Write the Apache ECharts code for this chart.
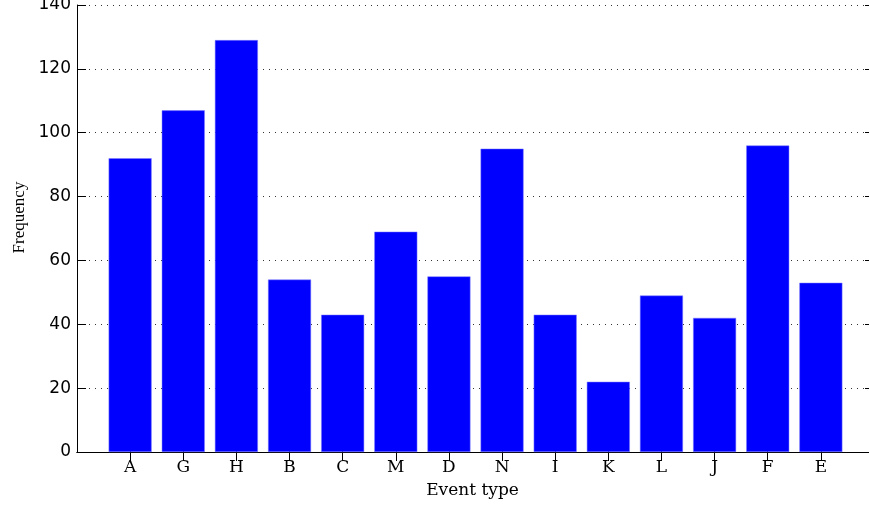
<!DOCTYPE html>
<html>
<head>
<meta charset="utf-8">
<script src="https://cdn.jsdelivr.net/npm/echarts@6/dist/echarts.min.js"></script>
<style>
  html, body { margin: 0; padding: 0; background: #fff; }
  #chart { width: 869px; height: 510px; }
</style>
</head>
<body>
<div id="chart"></div>
<script>
const categories = ['A', 'G', 'H', 'B', 'C', 'M', 'D', 'N', 'I', 'K', 'L', 'J', 'F', 'E'];
const frequency = [92, 107, 129, 54, 43, 69, 55, 95, 43, 22, 49, 42, 96, 53];
const yTicks = [0, 20, 40, 60, 80, 100, 120, 140];

// MATLAB-style x limits [0, N+1]: pad with empty slots at both ends
const paddedCats = [''].concat(categories, ['']);
const paddedVals = [null].concat(frequency, [null]);
const lastIdx = paddedCats.length - 1;
const tickFilter = function (idx) { return idx > 0 && idx < lastIdx; };

const chart = echarts.init(document.getElementById('chart'), null, { renderer: 'canvas' });
chart.setOption({
  animation: false,
  backgroundColor: '#ffffff',
  grid: { left: 77, top: 5, width: 797, height: 447, containLabel: false, outerBoundsMode: 'none' },
  xAxis: [
    {
      type: 'category',
      data: paddedCats,
      boundaryGap: false,
      position: 'bottom',
      name: 'Event type',
      nameLocation: 'middle',
      nameGap: 30,
      nameTextStyle: { fontFamily: 'DejaVu Serif', fontSize: 17, color: '#000', padding: [0, 6, 0, 0] },
      axisLine: { show: true, lineStyle: { color: '#000', width: 1 } },
      axisTick: { show: true, inside: true, length: 9, interval: tickFilter, lineStyle: { color: '#000' } },
      axisLabel: { show: true, interval: 0, margin: 7, fontFamily: 'DejaVu Serif', fontSize: 17, color: '#000' },
      splitLine: { show: false }
    },
    {
      type: 'category',
      data: paddedCats,
      boundaryGap: false,
      position: 'top',
      axisLine: { show: true, lineStyle: { color: '#000', width: 1 } },
      axisTick: { show: true, inside: true, length: 9, interval: tickFilter, lineStyle: { color: '#000' } },
      axisLabel: { show: false },
      splitLine: { show: false }
    }
  ],
  yAxis: [
    {
      type: 'value',
      min: yTicks[0],
      max: yTicks[yTicks.length - 1],
      interval: 20,
      position: 'left',
      name: 'Frequency',
      nameLocation: 'middle',
      nameGap: 48,
      nameTextStyle: { fontFamily: 'Liberation Serif', fontSize: 17, color: '#000', padding: [0, 0, 0, 22] },
      axisLine: { show: true, lineStyle: { color: '#000', width: 1 } },
      axisTick: { show: true, inside: true, length: 9, lineStyle: { color: '#000' } },
      axisLabel: { show: true, margin: 6, fontFamily: 'DejaVu Sans', fontSize: 17, color: '#000' },
      splitLine: { show: true, lineStyle: { color: '#333', width: 1, type: [1, 5] } }
    },
    {
      type: 'value',
      min: yTicks[0],
      max: yTicks[yTicks.length - 1],
      interval: 20,
      position: 'right',
      axisLine: { show: true, lineStyle: { color: '#000', width: 1 } },
      axisTick: { show: true, inside: true, length: 9, lineStyle: { color: '#000' } },
      axisLabel: { show: false },
      splitLine: { show: false }
    }
  ],
  series: [
    {
      type: 'bar',
      xAxisIndex: 0,
      yAxisIndex: 0,
      data: paddedVals,
      barWidth: 43,
      itemStyle: { color: '#0000ff', borderColor: '#7f7fff', borderWidth: 0.5 }
    }
  ]
});
</script>
</body>
</html>
